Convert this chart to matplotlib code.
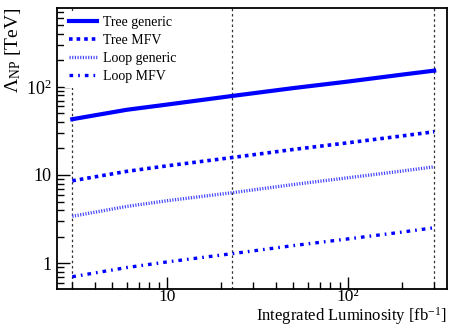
import numpy as np
import matplotlib.pyplot as plt

plt.rcParams['font.family'] = ['Liberation Serif']
plt.rcParams['mathtext.fontset'] = 'custom'
plt.rcParams['mathtext.rm'] = 'Liberation Serif'
plt.rcParams['mathtext.it'] = 'Liberation Serif:italic'

# integrated luminosity [fb^-1]
lumi = [3, 6, 10, 23, 50, 100, 200, 300]

# reach on the NP scale [TeV]
tree_generic = [43, 55, 63, 79, 97, 115, 138, 153]
tree_mfv = [8.6, 11.0, 12.7, 15.8, 19.5, 23.2, 27.8, 31]
loop_generic = [3.4, 4.4, 5.1, 6.3, 7.8, 9.3, 11.1, 12.4]
loop_mfv = [0.70, 0.89, 1.03, 1.28, 1.58, 1.88, 2.25, 2.52]

# luminosity benchmarks
benchmarks = [3, 23, 300]

fig = plt.figure(figsize=(4.49, 3.27), dpi=100)
ax = fig.add_axes([0.127, 0.116, 0.868, 0.86])

for b in benchmarks:
    ax.axvline(b, color='#333333', lw=0.9, ls=(0, (2, 2.2)), zorder=1)

blue = '#0000ff'
ax.plot(lumi, tree_generic, color=blue, lw=3.0, label='Tree generic', zorder=3)
ax.plot(lumi, tree_mfv, color=blue, lw=2.6, ls=(0, (1, 1.1)), label='Tree MFV', zorder=3)
ax.plot(lumi, loop_generic, color='#4444ff', lw=2.4, ls=(0, (0.35, 0.45)),
        label='Loop generic', zorder=3)
ax.plot(lumi, loop_mfv, color=blue, lw=2.4, ls=(0, (1.1, 1.5, 0.5, 1.5)),
        label='Loop MFV', zorder=3)

ax.set_xscale('log')
ax.set_yscale('log')
ax.set_xlim(2.47, 352)
ax.set_ylim(0.507, 790)

ax.set_xticks([10, 100])
ax.set_xticklabels(['10', '10²'])
ax.set_yticks([1, 10, 100])
ax.set_yticklabels(['1', '10', '$10^2$'])

ax.tick_params(which='major', direction='in', length=9, width=1.0, labelsize=13,
               top=False, right=False)
ax.tick_params(which='minor', direction='in', length=5, width=1.0,
               top=False, right=False)
ax.tick_params(axis='x', pad=0, labelsize=12.5)
ax.tick_params(axis='y', pad=4)
for s in ax.spines.values():
    s.set_linewidth(1.3)

fig.text(0.996, 0.0, 'Integrated Luminosity [fb$^{\\mathregular{-1}}$]', fontsize=12,
         ha='right', va='bottom')
ax.set_ylabel('$\\Lambda_{\\mathregular{NP}}$ [TeV]', fontsize=14, loc='top', labelpad=2)

leg = ax.legend(loc='upper left', fontsize=10, frameon=True, handlelength=2.0,
                borderaxespad=0.2, labelspacing=0.35, handletextpad=0.4,
                bbox_to_anchor=(0.01, 1.0))
leg.get_frame().set_edgecolor('none')
leg.get_frame().set_facecolor('white')
leg.get_frame().set_alpha(1)

fig.savefig('out.png', dpi=100)
